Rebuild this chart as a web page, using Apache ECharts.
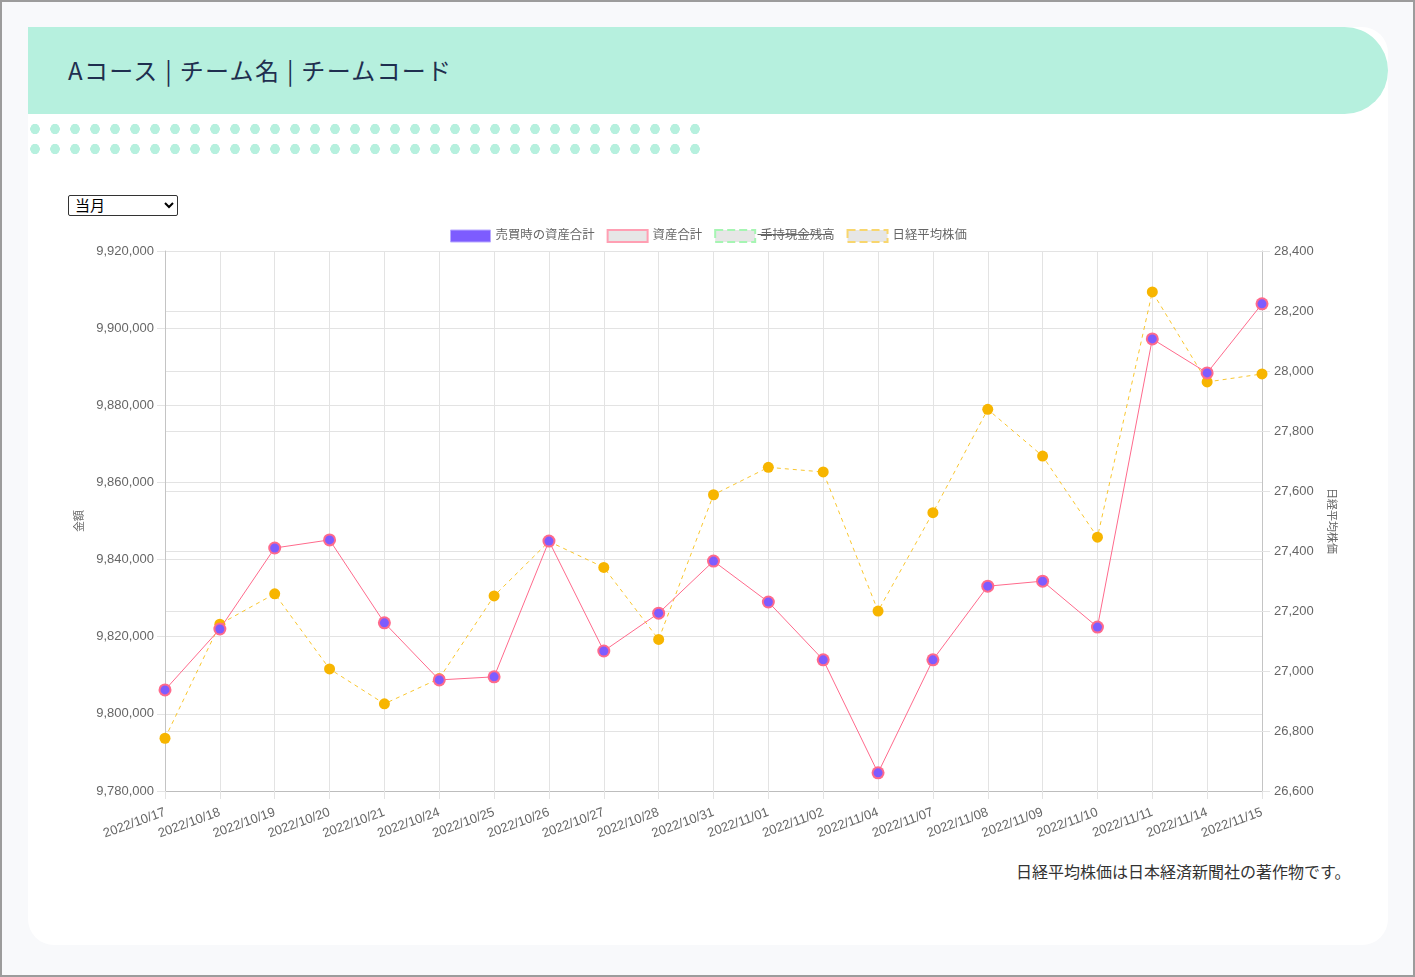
<!DOCTYPE html>
<html>
<head>
<meta charset="utf-8">
<script src="https://cdn.jsdelivr.net/npm/echarts@6/dist/echarts.min.js"></script>
<style>
  html, body { margin: 0; padding: 0; }
  body { width: 1415px; height: 977px; background: #f8f9fb; position: relative; overflow: hidden;
         font-family: "Noto Sans CJK JP", "Noto Sans", sans-serif; }
  #frame { position: absolute; left: 0; top: 0; width: 1415px; height: 977px; box-sizing: border-box;
           border: 2px solid #9c9c9c; pointer-events: none; z-index: 10; }
  #card { position: absolute; left: 28px; top: 27px; width: 1360px; height: 918px; background: #fff;
          border-radius: 0 26px 26px 26px; }
  #header { position: absolute; left: 28px; top: 27px; width: 1360px; height: 87px; background: #b6f0de;
            border-radius: 0 44px 44px 0; }
  #title { position: absolute; left: 68px; top: 27px; height: 87px; line-height: 86px; font-size: 24px;
           color: #1f2f4f; letter-spacing: 1.3px; font-weight: 400; }
  #dots { position: absolute; left: 25px; top: 119px; width: 680px; height: 40px;
          background-image: radial-gradient(ellipse 5px 5.5px at 10px 10px, #b6f0de 90%, rgba(182,240,222,0) 100%);
          background-size: 20px 20px; }
  #sel { position: absolute; left: 68px; top: 195px; width: 110px; height: 21px; font-size: 15px;
         border: 1px solid #333; border-radius: 2px; background: #fff; padding: 0 2px; color: #000;
         font-family: "Liberation Sans", Arial, "Noto Sans CJK JP", sans-serif; box-sizing: border-box; }
  #chart { position: absolute; left: 60px; top: 220px; width: 1300px; height: 630px; }
  #note { position: absolute; left: 1016px; top: 860px; font-size: 16px; color: #333; line-height: 22px; }
</style>
</head>
<body>
<div id="card"></div>
<div id="header"></div>
<div id="title">Aコース | チーム名 | チームコード</div>
<div id="dots"></div>
<select id="sel"><option>当月</option><option>前月</option></select>
<div id="chart"></div>
<div id="note">日経平均株価は日本経済新聞社の著作物です。</div>
<div id="frame"></div>
<script>
const categories = ['2022/10/17','2022/10/18','2022/10/19','2022/10/20','2022/10/21','2022/10/24','2022/10/25',
  '2022/10/26','2022/10/27','2022/10/28','2022/10/31','2022/11/01','2022/11/02','2022/11/04','2022/11/07',
  '2022/11/08','2022/11/09','2022/11/10','2022/11/11','2022/11/14','2022/11/15'];

const assetTotal = [9806200, 9822000, 9843000, 9845100, 9823600, 9808800, 9809600, 9844800, 9816300, 9826100,
  9839600, 9829000, 9814000, 9784700, 9814000, 9833100, 9834400, 9822500, 9897200, 9888400, 9906300];

const tradeAssetTotal = [9806200, 9822000, 9843000, 9845100, 9823600, 9808800, 9809600, 9844800, 9816300, 9826100,
  9839600, 9829000, 9814000, 9784700, 9814000, 9833100, 9834400, 9822500, 9897200, 9888400, 9906300];

const cashBalance = []; // hidden series in the reference

const nikkei = [26775.79, 27156.14, 27257.38, 27006.96, 26890.58, 26974.90, 27250.28, 27431.84, 27345.24, 27105.20,
  27587.46, 27678.92, 27663.39, 27199.74, 27527.64, 27872.11, 27716.43, 27446.10, 28263.57, 27963.47, 27990.17];

const seriesNames = ['売買時の資産合計', '資産合計', '手持現金残高', '日経平均株価'];
const leftAxisName = '金額';
const rightAxisName = '日経平均株価';

const FONT = '"Liberation Sans", Arial, "Noto Sans CJK JP", sans-serif';
const PURPLE = '#7d5cff';
const PINK = '#ff6a8c';
const AMBER = '#f7b500';
const GRID = '#e3e3e3';

const chart = echarts.init(document.getElementById('chart'), null, { renderer: 'canvas' });
chart.setOption({
  animation: false,
  textStyle: { fontFamily: FONT },
  legend: {
    left: 385, top: 4, itemWidth: 40, itemHeight: 12, itemGap: 12,
    selectedMode: false,
    textStyle: { color: '#666', fontSize: 12.4, fontFamily: FONT },
    data: [
      { name: seriesNames[0], icon: 'rect', itemStyle: { color: PURPLE, borderColor: '#b9a9ff', borderWidth: 1 } },
      { name: seriesNames[1], icon: 'rect', itemStyle: { color: '#e6e6e6', borderColor: '#ff9fb3', borderWidth: 2 } },
      { name: seriesNames[2], icon: 'rect', itemStyle: { color: '#e6e6e6', borderColor: '#a6f5b3', borderWidth: 2, borderType: 'dashed' } },
      { name: seriesNames[3], icon: 'rect', itemStyle: { color: '#e6e6e6', borderColor: '#f8d66e', borderWidth: 2, borderType: 'dashed' } }
    ]
  },
  graphic: [
    { type: 'line', shape: { x1: 697.5, y1: 14.5, x2: 772, y2: 14.5 }, style: { stroke: '#666', lineWidth: 1 }, z: 100 }
  ],
  grid: { left: 105, right: 98, top: 31, bottom: 59, containLabel: false },
  xAxis: {
    type: 'category', data: categories, boundaryGap: false,
    axisLine: { show: true, lineStyle: { color: '#bdbdbd', width: 1 } },
    axisTick: { show: true, length: 8, alignWithLabel: true, lineStyle: { color: GRID } },
    axisLabel: { rotate: 20, interval: 0, margin: 21, color: '#666', fontSize: 13, fontFamily: FONT },
    splitLine: { show: true, lineStyle: { color: GRID, width: 1 } }
  },
  yAxis: [
    {
      type: 'value', position: 'left', min: 9780000, max: 9920000, interval: 20000,
      name: leftAxisName, nameLocation: 'middle', nameGap: 80, nameRotate: 90,
      nameTextStyle: { color: '#666', fontSize: 11, fontFamily: FONT },
      axisLine: { show: true, lineStyle: { color: '#c4c4c4' } },
      axisTick: { show: true, length: 8, lineStyle: { color: GRID } },
      axisLabel: { margin: 11, color: '#666', fontSize: 13, fontFamily: FONT,
                   formatter: v => v.toLocaleString('en-US') },
      splitLine: { show: true, lineStyle: { color: GRID } }
    },
    {
      type: 'value', position: 'right', min: 26600, max: 28400, interval: 200,
      name: rightAxisName, nameLocation: 'middle', nameGap: 64, nameRotate: -90,
      nameTextStyle: { color: '#666', fontSize: 11, fontFamily: FONT },
      axisLine: { show: true, lineStyle: { color: '#c4c4c4' } },
      axisTick: { show: true, length: 8, lineStyle: { color: GRID } },
      axisLabel: { margin: 12, color: '#666', fontSize: 13, fontFamily: FONT,
                   formatter: v => v.toLocaleString('en-US') },
      splitLine: { show: true, lineStyle: { color: GRID } }
    }
  ],
  series: [
    {
      name: seriesNames[0], type: 'line', data: tradeAssetTotal, yAxisIndex: 0,
      symbol: 'circle', symbolSize: 9, showAllSymbol: true,
      itemStyle: { color: PURPLE }, lineStyle: { width: 0, opacity: 0 },
      emphasis: { disabled: true }, z: 5
    },
    {
      name: seriesNames[1], type: 'line', data: assetTotal, yAxisIndex: 0,
      symbol: 'circle', symbolSize: 13, showAllSymbol: true,
      itemStyle: { color: PINK }, lineStyle: { color: PINK, width: 1 },
      emphasis: { disabled: true }, z: 4
    },
    {
      name: seriesNames[2], type: 'line', data: cashBalance, yAxisIndex: 0,
      itemStyle: { color: '#a6f5b3' }, lineStyle: { color: '#a6f5b3', width: 1, type: 'dashed' }, z: 3
    },
    {
      name: seriesNames[3], type: 'line', data: nikkei, yAxisIndex: 1,
      symbol: 'circle', symbolSize: 11, showAllSymbol: true,
      itemStyle: { color: AMBER }, lineStyle: { color: '#f9c62e', width: 1, type: [4, 4] },
      emphasis: { disabled: true }, z: 2
    }
  ]
});
</script>
</body>
</html>
